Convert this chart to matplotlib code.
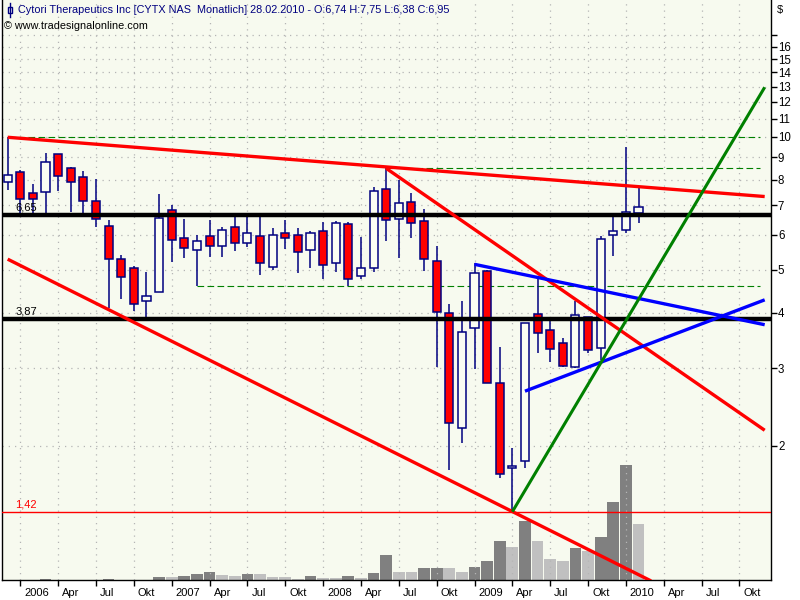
#plot.py - CYTX monthly candles with trendlines
import numpy as np
import matplotlib
matplotlib.use('Agg')
from matplotlib import pyplot as plt
from matplotlib import transforms
from matplotlib.ticker import NullLocator, NullFormatter

# monthly OHLC, Dec 2005 .. Feb 2010 (index 0 = Dec 2005)
opens = [7.90, 8.32, 7.46, 7.50, 9.14, 8.49, 8.11, 7.15, 6.30, 5.30, 5.04, 4.25,
         4.47, 6.83, 5.90, 5.54, 5.96, 5.68, 6.25, 5.75, 5.96, 5.09, 6.06, 5.99,
         5.54, 6.12, 5.18, 6.35, 4.84, 5.05, 7.61, 6.51, 7.12, 6.46, 5.24, 3.99,
         2.20, 3.69, 4.98, 2.77, 1.78, 1.85, 3.97, 3.65, 3.41, 3.02, 3.92, 3.33,
         5.99, 6.15, 6.74]
highs = [9.98, 8.42, 7.83, 9.19, 9.15, 8.55, 8.38, 8.02, 6.50, 5.41, 5.10, 4.94,
         7.43, 7.01, 6.51, 6.00, 6.50, 6.25, 6.60, 6.60, 6.60, 6.22, 6.50, 6.21,
         6.14, 6.42, 6.45, 6.42, 5.95, 7.72, 8.49, 7.99, 7.48, 6.86, 5.67, 4.19,
         4.26, 5.18, 4.99, 3.34, 1.98, 3.80, 4.79, 3.84, 3.50, 4.26, 3.92, 5.97,
         6.60, 9.49, 7.75]
lows = [7.58, 6.73, 6.73, 6.73, 7.56, 6.78, 6.70, 6.27, 4.10, 4.30, 4.03, 3.87,
        4.47, 5.20, 5.32, 4.59, 5.36, 5.36, 5.53, 5.65, 4.86, 5.00, 5.59, 4.93,
        5.06, 4.78, 4.96, 4.61, 4.77, 4.94, 5.80, 5.32, 5.92, 4.98, 3.01, 1.76,
        2.03, 2.98, 2.77, 1.69, 1.42, 1.78, 3.25, 3.10, 3.01, 3.00, 3.25, 3.13,
        5.38, 6.07, 6.38]
closes = [8.20, 7.23, 7.23, 8.77, 8.16, 7.92, 7.18, 6.51, 5.30, 4.82, 4.18, 4.36,
          6.55, 5.85, 5.60, 5.82, 5.66, 6.15, 5.75, 6.06, 5.18, 5.99, 5.92, 5.50,
          6.06, 5.13, 6.38, 4.77, 5.05, 7.54, 6.49, 7.08, 6.38, 5.29, 4.01, 2.25,
          3.62, 4.92, 2.77, 1.73, 1.80, 3.79, 3.61, 3.31, 3.04, 3.95, 3.30, 5.87,
          6.12, 6.76, 6.95]
volumes = [0.02, 0.01, 0.01, 0.12, 0.02, 0.01, 0.01, 0.01, 0.12, 0.02, 0.01, 0.01,
           0.30, 0.29, 0.40, 0.60, 0.80, 0.50, 0.40, 0.60, 0.58, 0.30, 0.28, 0.10,
           0.40, 0.20, 0.19, 0.40, 0.20, 0.70, 2.50, 0.80, 0.78, 1.20, 1.23, 1.18,
           0.80, 1.30, 1.90, 3.90, 3.30, 5.90, 3.90, 2.10, 1.90, 3.20, 2.90, 4.30,
           7.80, 11.50, 5.60]

# x tick labels every 3 months starting Jan 2006 (index 1)
tick_labels = ['2006', 'Apr', 'Jul', 'Okt', '2007', 'Apr', 'Jul', 'Okt',
               '2008', 'Apr', 'Jul', 'Okt', '2009', 'Apr', 'Jul', 'Okt',
               '2010', 'Apr', 'Jul', 'Okt']
price_ticks = [2, 3, 4, 5, 6, 7, 8, 9, 10, 11, 12, 13, 14, 15, 16, 17]

# trendlines as (month index, price) pairs
red_top = ([0, 60], [9.98, 7.33])
red_low = ([0, 51], [5.29, 0.99])
red_mid = ([30, 60], [8.49, 2.17])
blue_top = ([37, 60], [5.15, 3.76])
blue_low = ([41, 60], [2.66, 4.28])
green_up = ([40, 60], [1.42, 12.95])

support_levels = [6.65, 3.87]
low_level = 1.42
dashed_levels = [(9.98, 0), (8.49, 30), (4.59, 15)]

bg = '#f7faef'
navy = '#000080'
plt.rcParams['font.family'] = ['Liberation Sans', 'DejaVu Sans']

x = np.arange(len(opens))
xlim = (-0.45, 60.5)
ylim = (0.995, 20.4)

fig = plt.figure(figsize=(8, 6), dpi=100)
rect = [2 / 800, 20 / 600, 769 / 800, 580 / 600]

# volume behind the price chart
ax_vol = fig.add_axes(rect, facecolor=bg)
vol_colors = []
prev = 0
for v in volumes:
    vol_colors.append('#808080' if v > prev else '#c0c0c0')
    prev = v
ax_vol.bar(x, volumes, width=0.93, color=vol_colors, linewidth=0)
ax_vol.set_xlim(xlim)
ax_vol.set_ylim(0, 58)
ax_vol.set_xticks([])
ax_vol.set_yticks([])
for s in ax_vol.spines.values():
    s.set_visible(False)

ax = fig.add_axes(rect, facecolor='none')
ax.set_yscale('log')
ax.set_xlim(xlim)
ax.set_ylim(ylim)

# candles
o = np.array(opens)
c = np.array(closes)
ax.vlines(x, lows, highs, color=navy, lw=1.1, zorder=3)
body_col = np.where(c >= o, '#fbfdf3', '#ff0000')
ax.bar(x, np.abs(c - o), bottom=np.minimum(o, c), width=0.64, color=body_col,
       edgecolor=navy, linewidth=1.1, zorder=4)

# horizontal levels
for lev in support_levels:
    ax.axhline(lev, color='black', lw=3.2, zorder=5)
    ax.text(0.6, lev * 1.012, f"{lev:.2f}".replace('.', ','), fontsize=8,
            va='bottom', ha='left', zorder=6)
ax.axhline(low_level, color='red', lw=1.0, zorder=5)
ax.text(0.6, low_level * 1.012, f"{low_level:.2f}".replace('.', ','), fontsize=8,
        va='bottom', ha='left', color='red', zorder=6)
for lev, start in dashed_levels:
    ax.hlines(lev, start, 59.6, color='#008000', lw=0.8, linestyles=(0, (6, 3)), zorder=2)

# trendlines
for tx, ty in [red_top, red_low, red_mid]:
    ax.plot(tx, ty, color='red', lw=2.4, zorder=6, solid_capstyle='butt')
for tx, ty in [blue_top, blue_low]:
    ax.plot(tx, ty, color='#0000ff', lw=2.4, zorder=6, solid_capstyle='butt')
ax.plot(green_up[0], green_up[1], color='#008000', lw=2.2, zorder=6, solid_capstyle='butt')

# axes styling
ax.yaxis.tick_right()
ax.set_yticks(price_ticks)
ax.set_yticklabels([str(t) if t < 17 else '' for t in price_ticks])
ax.yaxis.set_minor_locator(NullLocator())
ax.yaxis.set_minor_formatter(NullFormatter())
ax.tick_params(axis='y', which='major', direction='out', length=4, width=1,
               labelsize=8.3, pad=1)

xt = np.arange(1, 1 + 3 * len(tick_labels), 3)
ax.set_xticks(xt)
ax.set_xticklabels(tick_labels)
ax.tick_params(axis='x', direction='out', length=4, width=1, labelsize=8, pad=2)
offset = transforms.ScaledTranslation(4 / 100, 0, fig.dpi_scale_trans)
for lbl in ax.get_xticklabels():
    lbl.set_horizontalalignment('left')
    lbl.set_transform(lbl.get_transform() + offset)

ax.grid(True, which='major', color='#b5b5b5', linestyle=(0, (1, 4)), lw=0.9)
ax.set_axisbelow(True)
ax.spines['top'].set_visible(False)
for s in ['left', 'right', 'bottom']:
    ax.spines[s].set_color('black')
    ax.spines[s].set_linewidth(1)

# header
fig.text(18 / 800, 1 - 10 / 600,
         "Cytori Therapeutics Inc [CYTX NAS  Monatlich] 28.02.2010 - O:6,74 H:7,75 L:6,38 C:6,95",
         color=navy, fontsize=7.8, va='center', ha='left')
fig.text(4 / 800, 1 - 26 / 600, "\u00a9 www.tradesignalonline.com", color='black',
         fontsize=7.8, va='center', ha='left')
fig.lines.append(plt.Line2D([10 / 800, 10 / 800], [1 - 3 / 600, 1 - 17 / 600],
                            color=navy, lw=1, transform=fig.transFigure))
fig.patches.append(plt.Rectangle((8 / 800, 1 - 13 / 600), 4 / 800, 6 / 600,
                                 facecolor='white', edgecolor=navy, lw=1,
                                 transform=fig.transFigure))
fig.text(777 / 800, 1 - 10 / 600, "$", fontsize=8, va='center', ha='left')

fig.savefig('out.png', dpi=100, facecolor='white')
